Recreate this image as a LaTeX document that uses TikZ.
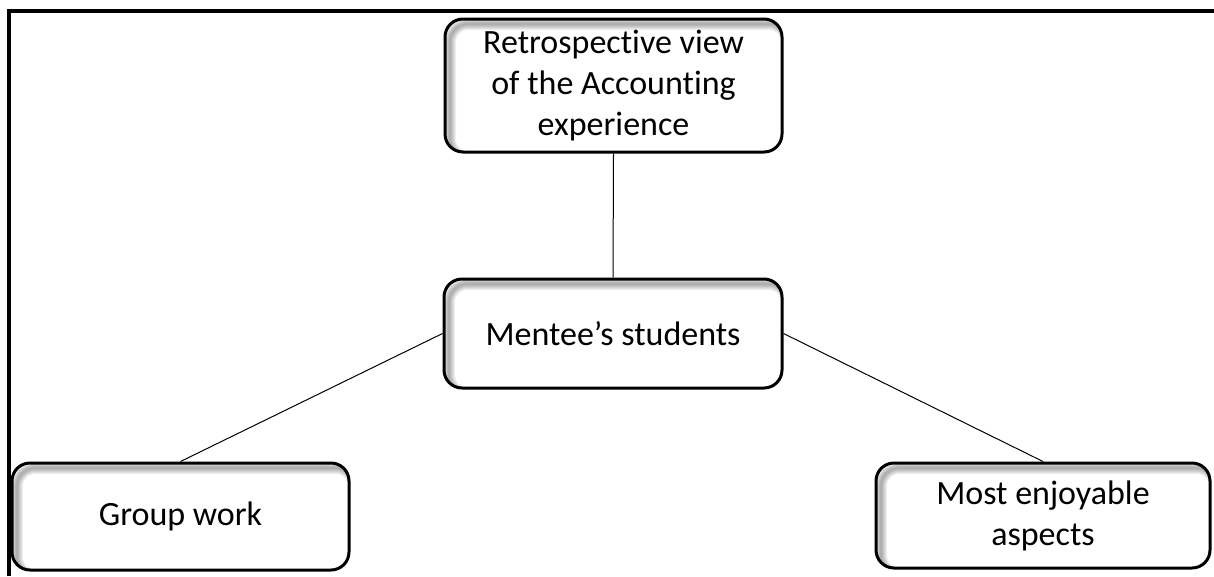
\documentclass[tikz,border=0pt]{standalone}
\usepackage{fontspec}
\setmainfont{Carlito}[Ligatures=NoCommon]
\begin{document}
\begin{tikzpicture}[x=1pt,y=-1pt,
  topic/.style={draw=black, line width=3pt, rounded corners=18pt, fill=white,
    align=center, inner sep=0pt,
    font=\fontsize{34}{41}\selectfont,
    path picture={
      \foreach \w in {2,4,6,8,10,12}
        \draw[black, opacity=0.06, line width=\w pt, rounded corners=18pt]
          ([shift={(5pt,-5pt)}]path picture bounding box.south west) rectangle
          ([shift={(5pt,-5pt)}]path picture bounding box.north east);
    }},
  link/.style={draw=black, line width=1pt},
  frameline/.style={draw=black, line width=4pt}]
  \useasboundingbox (0,0) rectangle (1214,576);

  % page frame (top and left edges)
  \draw[frameline] (9,576) -- (9,11) -- (1214,11);

  % topic boxes
  \node[topic, minimum width=337pt, minimum height=133pt] (retro) at (613.5,85.5)
    {Retrospective view\\of the Accounting\\experience};
  \node[topic, minimum width=338pt, minimum height=109pt] (mentee) at (613,333.5)
    {Mentee’s students};
  \node[topic, minimum width=337pt, minimum height=107pt] (group) at (180.5,516.5)
    {Group work};
  \node[topic, minimum width=334pt, minimum height=105pt] (enjoy) at (1043,515.5)
    {Most enjoyable\\aspects};

  % connectors
  \draw[link] (retro.south) -- (mentee.north);
  \draw[link] (mentee.west) -- (group.north);
  \draw[link] (mentee.east) -- (enjoy.north);
\end{tikzpicture}
\end{document}
